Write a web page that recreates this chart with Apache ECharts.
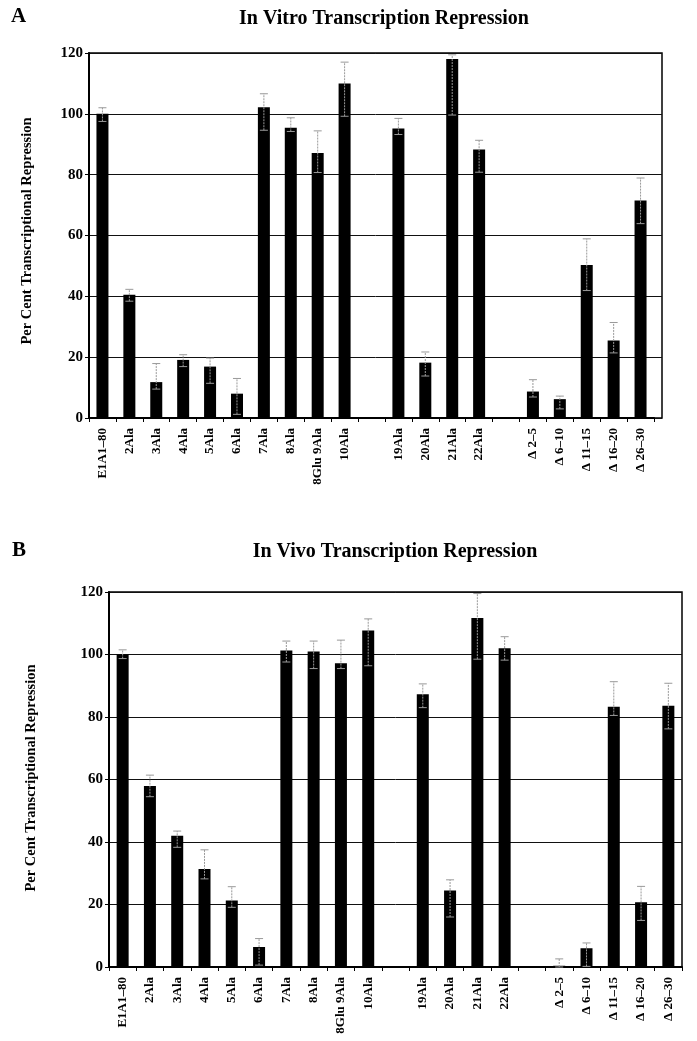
<!DOCTYPE html>
<html>
<head>
<meta charset="utf-8">
<script src="https://cdn.jsdelivr.net/npm/echarts@6/dist/echarts.min.js"></script>
<style>
html,body{margin:0;padding:0;background:#fff;}
#chart{width:697px;height:1041px;}
</style>
</head>
<body>
<div id="chart"></div>
<script>
// ---- Data ----
const categories = ['E1A1\u201380','2Ala','3Ala','4Ala','5Ala','6Ala','7Ala','8Ala','8Glu 9Ala','10Ala',' ','19Ala','20Ala','21Ala','22Ala','  ','\u0394 2\u20135','\u0394 6\u201310','\u0394 11\u201315','\u0394 16\u201320','\u0394 26\u201330'];

const vitroValues   = [100, 40.5, 11.8, 19.1, 16.9, 8.0, 102.2, 95.4, 87.1, 110, null, 95.2, 18.2, 118, 88.3, null, 8.7, 6.2, 50.3, 25.5, 71.5];
const vitroErrLow   = [97.5, 38.4, 9.5, 16.9, 11.4, 1.2, 94.6, 94.2, 80.7, 99.2, null, 93.2, 13.8, 99.6, 80.8, null, 6.9, 3.0, 41.9, 21.4, 63.9];
const vitroErrHigh  = [102, 42.3, 17.9, 20.8, 19.7, 13.0, 106.6, 98.7, 94.4, 117, null, 98.5, 21.7, 119.4, 91.3, null, 12.6, 7.2, 58.9, 31.4, 78.9];

const vivoValues    = [100, 57.9, 42.0, 31.4, 21.3, 6.4, 101.3, 101, 97.2, 107.7, null, 87.3, 24.5, 111.7, 102, null, 0.4, 6.0, 83.3, 20.7, 83.6];
const vivoErrLow    = [98.7, 54.5, 38.3, 28.2, 19.1, 0.6, 97.6, 95.5, 95.5, 96.4, null, 83, 16, 98.5, 98.2, null, 0, 0.2, 80.5, 14.9, 76.2];
const vivoErrHigh   = [101.5, 61.4, 43.5, 37.5, 25.7, 9.1, 104.3, 104.3, 104.6, 111.4, null, 90.6, 27.9, 119.5, 105.7, null, 2.6, 7.7, 91.3, 25.8, 90.8];

const yTicks = [0, 20, 40, 60, 80, 100, 120];

const titleA = 'In Vitro Transcription Repression';
const titleB = 'In Vivo Transcription Repression';
const yName = 'Per Cent Transcriptional Repression';

// ---- Styles ----
const FONT = "'Liberation Serif','Times New Roman',serif";

function errData(lo, hi) {
  const out = [];
  for (let i = 0; i < categories.length; i++) {
    if (lo[i] != null && hi[i] != null) out.push([i, lo[i], hi[i]]);
  }
  return out;
}

function renderErr(params, api) {
  const x = api.value(0), lo = api.value(1), hi = api.value(2);
  const pLo = api.coord([x, lo]);
  const pHi = api.coord([x, hi]);
  const h = 4;
  const c = '#999';
  return {
    type: 'group',
    children: [
      {type: 'line', shape: {x1: pLo[0], y1: pLo[1], x2: pHi[0], y2: pHi[1]}, style: {stroke: c, lineWidth: 1, lineDash: [2, 1]}},
      {type: 'line', shape: {x1: pHi[0] - h, y1: pHi[1], x2: pHi[0] + h, y2: pHi[1]}, style: {stroke: c, lineWidth: 1}},
      {type: 'line', shape: {x1: pLo[0] - h, y1: pLo[1], x2: pLo[0] + h, y2: pLo[1]}, style: {stroke: c, lineWidth: 1}}
    ]
  };
}

const yAxisShown = (gi) => ({
  gridIndex: gi, type: 'value', min: 0, max: 120, interval: 20,
  axisLine: {show: true, lineStyle: {color: '#000', width: 2}},
  axisTick: {show: true, length: 4, lineStyle: {color: '#000'}},
  axisLabel: {color: '#000', fontFamily: FONT, fontWeight: 'bold', fontSize: 15, margin: 6},
  splitLine: {show: true, lineStyle: {color: '#111', width: 1}}
});
const yAxisHidden = (gi) => ({
  gridIndex: gi, type: 'value', min: 0, max: 120, interval: 20, show: false,
  splitLine: {show: false}
});
const xCat = (gi) => ({
  gridIndex: gi, type: 'category', data: categories,
  axisLine: {show: true, lineStyle: {color: '#000', width: 2}},
  axisTick: {show: true, length: 4, inside: false, lineStyle: {color: '#000'}},
  axisLabel: {rotate: 90, interval: 0, color: '#000', fontFamily: FONT, fontWeight: 'bold', fontSize: 13, margin: 10},
  splitLine: {show: false}
});

const option = {
  backgroundColor: '#fff',
  animation: false,
  grid: [
    {left: 89, top: 53, width: 573, height: 365, show: true, borderColor: '#000', borderWidth: 1.5, backgroundColor: 'transparent'},
    {left: 89, top: 53, width: 565, height: 365},
    {left: 109, top: 592, width: 573, height: 375, show: true, borderColor: '#000', borderWidth: 1.5, backgroundColor: 'transparent'}
  ],
  xAxis: [
    {gridIndex: 0, type: 'value', min: 0, max: 1, show: false},
    xCat(1),
    xCat(2)
  ],
  yAxis: [
    yAxisShown(0),
    yAxisHidden(1),
    yAxisShown(2)
  ],
  graphic: [
    {type: 'text', left: 11, top: 6, style: {text: 'A', font: "bold 21px " + FONT, fill: '#000'}},
    {type: 'text', x: 384, y: 19, style: {text: titleA, font: "bold 20px " + FONT, fill: '#000', textAlign: 'center', textVerticalAlign: 'middle'}},
    {type: 'text', x: 27, y: 231, rotation: Math.PI / 2, style: {text: yName, font: "bold 14.5px " + FONT, fill: '#000', textAlign: 'center', textVerticalAlign: 'middle'}},
    {type: 'text', left: 12, top: 540, style: {text: 'B', font: "bold 21px " + FONT, fill: '#000'}},
    {type: 'text', x: 395, y: 552, style: {text: titleB, font: "bold 20px " + FONT, fill: '#000', textAlign: 'center', textVerticalAlign: 'middle'}},
    {type: 'text', x: 31, y: 778, rotation: Math.PI / 2, style: {text: yName, font: "bold 14.5px " + FONT, fill: '#000', textAlign: 'center', textVerticalAlign: 'middle'}}
  ],
  series: [
    {type: 'bar', xAxisIndex: 1, yAxisIndex: 1, data: vitroValues, barWidth: 12, itemStyle: {color: '#000'}, z: 2},
    {type: 'custom', xAxisIndex: 1, yAxisIndex: 1, data: errData(vitroErrLow, vitroErrHigh), renderItem: renderErr, encode: {x: 0, y: [1, 2]}, z: 5},
    {type: 'bar', xAxisIndex: 2, yAxisIndex: 2, data: vivoValues, barWidth: 12, itemStyle: {color: '#000'}, z: 2},
    {type: 'custom', xAxisIndex: 2, yAxisIndex: 2, data: errData(vivoErrLow, vivoErrHigh), renderItem: renderErr, encode: {x: 0, y: [1, 2]}, z: 5}
  ]
};

const chart = echarts.init(document.getElementById('chart'), null, {renderer: 'canvas'});
chart.setOption(option);
</script>
</body>
</html>
